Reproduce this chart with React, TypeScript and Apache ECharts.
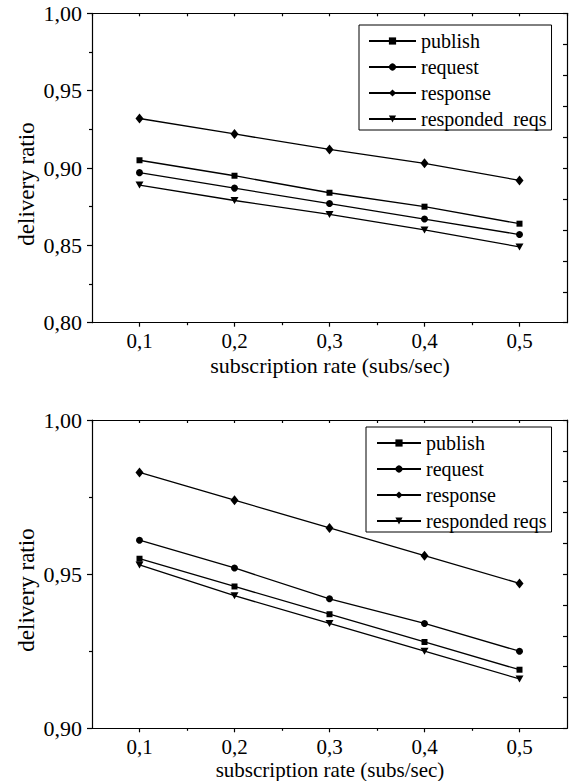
import React, { useEffect, useRef } from "react";
import * as echarts from "echarts";

const xValues = [0.1, 0.2, 0.3, 0.4, 0.5];

const seriesNamesTop = ["publish", "request", "response", "responded  reqs"];
const seriesNamesBottom = ["publish", "request", "response", "responded reqs"];

const topPublish = [0.905, 0.895, 0.884, 0.875, 0.864];
const topRequest = [0.897, 0.887, 0.877, 0.867, 0.857];
const topResponse = [0.932, 0.922, 0.912, 0.903, 0.892];
const topResponded = [0.889, 0.879, 0.870, 0.860, 0.849];

const bottomPublish = [0.955, 0.946, 0.937, 0.928, 0.919];
const bottomRequest = [0.961, 0.952, 0.942, 0.934, 0.925];
const bottomResponse = [0.983, 0.974, 0.965, 0.956, 0.947];
const bottomResponded = [0.953, 0.943, 0.934, 0.925, 0.916];

const xMajorTicks = [0.1, 0.2, 0.3, 0.4, 0.5];
const xMinorTicks = [0.15, 0.25, 0.35, 0.45];

const xTitle = "subscription rate (subs/sec)";
const yTitle = "delivery ratio";

const FONT = "Liberation Serif, Times New Roman, DejaVu Serif, serif";

const fmtX = (v: number) => v.toFixed(1).replace(".", ",");
const fmtY = (v: number) => v.toFixed(2).replace(".", ",");

const symbols: any[] = [
  { symbol: "rect", symbolSize: 6, symbolRotate: 0 },
  { symbol: "circle", symbolSize: 7, symbolRotate: 0 },
  { symbol: "diamond", symbolSize: [8, 10], symbolRotate: 0 },
  { symbol: "triangle", symbolSize: [8, 7], symbolRotate: 180 },
];

export default function App() {
  const ref = useRef<HTMLDivElement>(null);

  useEffect(() => {
    if (!ref.current) return;
    const chart = echarts.init(ref.current, null, { renderer: "svg" });

    const grids = [
      { left: 92, top: 13.3, width: 475, height: 309.4 },
      { left: 92, top: 420, width: 475, height: 308.3 },
    ];

    const xAxes: any[] = [];
    const yAxes: any[] = [];
    const yRanges = [
      { min: 0.8, max: 1.0, rightInterval: 0.02 },
      { min: 0.9, max: 1.0, rightInterval: 0.01 },
    ];
    const lineStyle = { color: "#000", width: 1.2 };

    grids.forEach((_, gi) => {
      xAxes.push({
        type: "value",
        gridIndex: gi,
        position: "bottom",
        min: 0.05,
        max: 0.55,
        interval: 0.05,
        axisLine: { show: true, onZero: false, lineStyle },
        axisTick: { show: true, inside: false, length: 4, lineStyle, customValues: xMajorTicks },
        axisLabel: {
          show: true,
          customValues: xMajorTicks,
          formatter: (v: number) => fmtX(v),
          color: "#000",
          fontFamily: FONT,
          fontSize: 21,
          lineHeight: 21,
          margin: 8,
        },
        splitLine: { show: false },
      });
      xAxes.push({
        type: "value",
        gridIndex: gi,
        position: "bottom",
        min: 0.05,
        max: 0.55,
        interval: 0.05,
        axisLine: { show: false, onZero: false },
        axisTick: { show: true, inside: false, length: 2.5, lineStyle, customValues: xMinorTicks },
        axisLabel: { show: false },
        splitLine: { show: false },
      });
      xAxes.push({
        type: "value",
        gridIndex: gi,
        position: "top",
        min: 0.05,
        max: 0.55,
        interval: 0.05,
        axisLine: { show: true, onZero: false, lineStyle },
        axisTick: { show: true, inside: true, length: 3, lineStyle },
        axisLabel: { show: false },
        splitLine: { show: false },
      });
      const yr = yRanges[gi];
      yAxes.push({
        type: "value",
        gridIndex: gi,
        position: "left",
        min: yr.min,
        max: yr.max,
        interval: 0.05,
        axisLine: { show: true, onZero: false, lineStyle },
        axisTick: { show: true, inside: false, length: 5, lineStyle },
        minorTick: { show: true, splitNumber: 2, length: 3, lineStyle },
        axisLabel: {
          show: true,
          formatter: (v: number) => fmtY(v),
          color: "#000",
          fontFamily: FONT,
          fontSize: 22,
          margin: 10,
        },
        splitLine: { show: false },
        minorSplitLine: { show: false },
      });
      yAxes.push({
        type: "value",
        gridIndex: gi,
        position: "right",
        min: yr.min,
        max: yr.max,
        interval: yr.rightInterval,
        axisLine: { show: true, onZero: false, lineStyle },
        axisTick: { show: true, inside: true, length: 4, lineStyle },
        axisLabel: { show: false },
        splitLine: { show: false },
      });
    });

    const makeSeries = (names: string[], data: number[][], gi: number) =>
      names.map((name, i) => ({
        type: "line",
        name,
        xAxisIndex: gi * 3,
        yAxisIndex: gi * 2,
        data: data[i].map((y, k) => [xValues[k], y]),
        symbol: symbols[i].symbol,
        symbolSize: symbols[i].symbolSize,
        symbolRotate: symbols[i].symbolRotate,
        showAllSymbol: true,
        lineStyle: { color: "#000", width: 1.3 },
        itemStyle: { color: "#000", borderWidth: 0 },
        emphasis: { disabled: true },
        z: 3,
      }));

    const series = [
      ...makeSeries(seriesNamesTop, [topPublish, topRequest, topResponse, topResponded], 0),
      ...makeSeries(seriesNamesBottom, [bottomPublish, bottomRequest, bottomResponse, bottomResponded], 1),
    ];

    const legendCommon = {
      orient: "vertical",
      itemWidth: 47,
      itemHeight: 9,
      itemGap: 6,
      itemStyle: { borderWidth: 0 },
      borderColor: "#000",
      borderWidth: 1,
      borderRadius: 0,
      backgroundColor: "#fff",
      selectedMode: false,
      textStyle: { color: "#000", fontFamily: FONT, fontSize: 20, lineHeight: 19 },
    };

    const option: any = {
      animation: false,
      backgroundColor: "#fff",
      grid: grids.map((g) => ({ ...g, containLabel: false })),
      xAxis: xAxes,
      yAxis: yAxes,
      legend: [
        { ...legendCommon, data: seriesNamesTop, left: 359, top: 25, padding: [6, 5, 1, 9] },
        { ...legendCommon, data: seriesNamesBottom, left: 366, top: 427, padding: [6, 5, 1, 10], itemWidth: 44 },
      ],
      graphic: [
        {
          type: "text",
          x: 330,
          y: 365,
          style: { text: xTitle, fontFamily: FONT, fontSize: 22, fill: "#000", textAlign: "center", textVerticalAlign: "middle" },
        },
        {
          type: "text",
          x: 330,
          y: 770,
          style: { text: xTitle, fontFamily: FONT, fontSize: 21, fill: "#000", textAlign: "center", textVerticalAlign: "middle" },
        },
        {
          type: "text",
          x: 26,
          y: 184,
          rotation: Math.PI / 2,
          style: { text: yTitle, fontFamily: FONT, fontSize: 23, fill: "#000", textAlign: "center", textVerticalAlign: "middle" },
        },
        {
          type: "text",
          x: 26,
          y: 590,
          rotation: Math.PI / 2,
          style: { text: yTitle, fontFamily: FONT, fontSize: 23, fill: "#000", textAlign: "center", textVerticalAlign: "middle" },
        },
      ],
      series,
    };

    chart.setOption(option);
    return () => chart.dispose();
  }, []);

  return (
    <div
      ref={ref}
      style={{ position: "absolute", left: 0, top: 0, width: 574, height: 781, background: "#fff" }}
    />
  );
}
